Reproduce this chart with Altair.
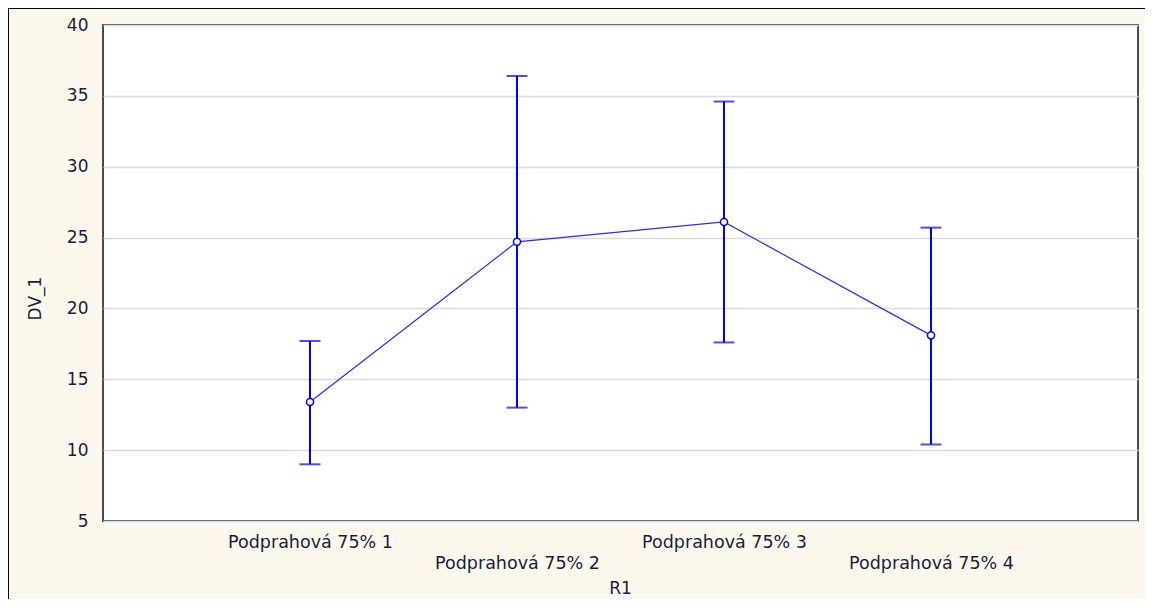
import altair as alt
import pandas as pd
import json

categories = ["Podprahová 75% 1", "Podprahová 75% 2", "Podprahová 75% 3", "Podprahová 75% 4"]
means = [13.4, 24.7, 26.1, 18.1]
upper = [17.7, 36.4, 34.6, 25.7]
lower = [9.0, 13.0, 17.6, 10.4]
y_ticks = [5, 10, 15, 20, 25, 30, 35, 40]

df = pd.DataFrame({"R1": categories, "DV_1": means, "hi": upper, "lo": lower})

FONT = "DejaVu Sans"
TXT = "#1c1c3c"
BLUE = "#0000ff"

cats_js = json.dumps(categories, ensure_ascii=False)
label_expr = f"indexof({cats_js}, datum.value) % 2 == 1 ? ['', datum.value] : datum.value"

x_enc = alt.X(
    "R1:O",
    sort=categories,
    scale=alt.Scale(type="point", padding=1),
    axis=alt.Axis(
        title="R1", labelAngle=0, labelExpr=label_expr, labelLineHeight=21,
        labelPadding=12, labelBaseline="top", tickSize=0, domain=False,
        titleX=517, titleY=67, titleBaseline="middle", titleAnchor="start", titleAlign="center",
        labelFontSize=17.5, titleFontSize=17, titleFontWeight="normal",
    ),
)
y_enc = alt.Y(
    "DV_1:Q",
    scale=alt.Scale(domain=[5, 40], nice=False, zero=False),
    axis=alt.Axis(
        title="DV_1", values=y_ticks, tickSize=0, labelPadding=15, domain=False,
        titleX=-68, titleY=273, titleAngle=-90, titleBaseline="middle", titleAlign="center",
        labelFontSize=17, titleFontSize=17, titleFontWeight="normal",
    ),
)

base = alt.Chart(df)

rules = base.mark_rule(color=BLUE, strokeWidth=2).encode(
    x=x_enc, y=alt.Y("lo:Q", scale=alt.Scale(domain=[5, 40], nice=False, zero=False)), y2="hi:Q"
)
cap_hi = base.mark_tick(color=BLUE, thickness=2, size=21, orient="horizontal").encode(
    x=x_enc, y=alt.Y("hi:Q")
)
cap_lo = base.mark_tick(color=BLUE, thickness=2, size=21, orient="horizontal").encode(
    x=x_enc, y=alt.Y("lo:Q")
)
line = base.mark_line(color="#2a2aff", strokeWidth=1.2).encode(x=x_enc, y=y_enc)
pts = base.mark_point(shape="circle", filled=True, fill="white", stroke=BLUE,
                      strokeWidth=1.5, size=50, opacity=1).encode(x=x_enc, y=y_enc)

# decorative outer frame (top and left edges of the window frame)
frame_top = alt.Chart(pd.DataFrame({"a": [0]})).mark_rule(color="black", strokeWidth=2, clip=False).encode(
    x=alt.value(-95), x2=alt.value(1042), y=alt.value(-17)
)
frame_left = alt.Chart(pd.DataFrame({"a": [0]})).mark_rule(color="black", strokeWidth=2, clip=False).encode(
    x=alt.value(-95), y=alt.value(-17), y2=alt.value(575)
)

chart = alt.layer(rules, line, cap_hi, cap_lo, pts, frame_top, frame_left).properties(
    width=1035, height=496,
    autosize=alt.AutoSizeParams(type="none"),
    padding={"left": 95, "top": 17, "right": 7, "bottom": 78},
    background="#fdf8ed",
).configure_view(
    fill="white", stroke="#4a4a4a", strokeWidth=2,
).configure_axis(
    gridColor="#dcdcdc", gridWidth=1.5, labelFont=FONT, titleFont=FONT,
    labelColor=TXT, titleColor=TXT,
)

chart.save("out.html", embed_options={"renderer": "svg", "actions": False})
